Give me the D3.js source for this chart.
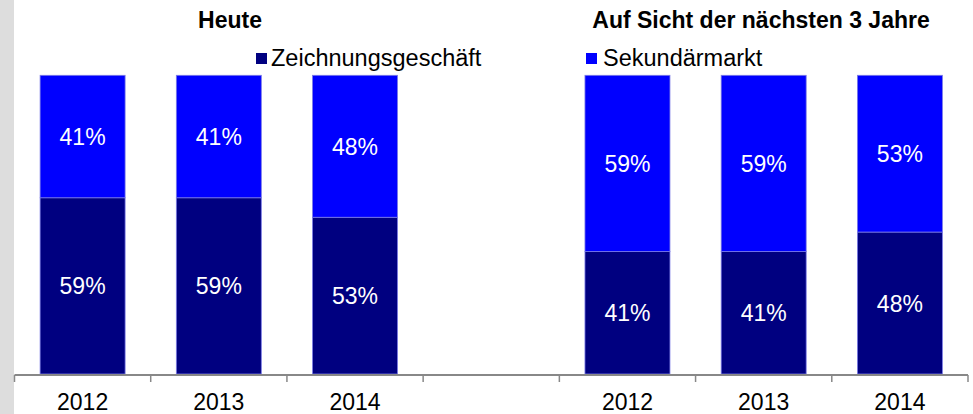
<!DOCTYPE html>
<html>
<head>
<meta charset="utf-8">
<script src="https://cdn.jsdelivr.net/npm/d3@7/dist/d3.min.js"></script>
<style>
  html, body { margin: 0; padding: 0; background: #ffffff; }
  svg { display: block; font-family: "Liberation Sans", Arial, sans-serif; }
</style>
</head>
<body>
<svg id="chart" width="973" height="414"></svg>
<script>
// ---- data ----
const slots = ["h2012", "h2013", "h2014", "gap", "f2012", "f2013", "f2014"];
const tickLabels = ["2012", "2013", "2014", "", "2012", "2013", "2014"];
const zeichnung = [59, 59, 53, null, 41, 41, 48];   // Zeichnungsgeschäft (%)
const sekundaer = [41, 41, 48, null, 59, 59, 53];   // Sekundärmarkt (%)
const seriesNames = ["Zeichnungsgeschäft", "Sekundärmarkt"];
const groupTitles = ["Heute", "Auf Sicht der nächsten 3 Jahre"];
const colors = ["#000080", "#0000ff"];

// ---- layout ----
const svg = d3.select("#chart");
const W = 973, H = 414;
const x0 = 14.5, x1 = 968, yBottom = 375, yTop = 75.3;

svg.append("rect").attr("x", 0).attr("y", 0).attr("width", 14).attr("height", H).attr("fill", "#dddddd");

const x = d3.scaleBand().domain(slots).range([x0, x1]).paddingInner(0.376).paddingOuter(0.188);
const y = d3.scaleLinear().domain([0, 1]).range([yBottom - 1, yTop]);

const rows = slots.map((s, i) => ({ slot: s, z: zeichnung[i] || 0, s2: sekundaer[i] || 0 }));
const stack = d3.stack().keys(["z", "s2"]).offset(d3.stackOffsetExpand);
const layers = stack(rows);

layers.forEach((layer, li) => {
  const g = svg.append("g");
  const data = layer.map((d, i) => ({ d, i, v: li === 0 ? zeichnung[i] : sekundaer[i] }))
                    .filter(o => o.v != null);
  g.selectAll("rect").data(data).enter().append("rect")
    .attr("x", o => x(slots[o.i]))
    .attr("width", x.bandwidth())
    .attr("y", o => y(o.d[1]))
    .attr("height", o => y(o.d[0]) - y(o.d[1]))
    .attr("fill", colors[li])
    .attr("stroke", "#7c7ce6")
    .attr("stroke-width", 0.8);
  g.selectAll("text").data(data).enter().append("text")
    .attr("x", o => x(slots[o.i]) + x.bandwidth() / 2)
    .attr("y", o => (y(o.d[0]) + y(o.d[1])) / 2 + 8.5)
    .attr("text-anchor", "middle")
    .attr("fill", "#ffffff")
    .attr("font-size", "23px")
    .text(o => o.v + "%");
});

// ---- axis ----
const xTick = d3.scalePoint().domain(d3.range(8)).range([x0, x1]);
const ax = svg.append("g");
ax.append("line").attr("x1", x0).attr("x2", x1).attr("y1", yBottom).attr("y2", yBottom)
  .attr("stroke", "#888888").attr("stroke-width", 2);
ax.selectAll("line.tick").data(d3.range(8)).enter().append("line").attr("class", "tick")
  .attr("x1", d => xTick(d)).attr("x2", d => xTick(d))
  .attr("y1", yBottom).attr("y2", yBottom + 7)
  .attr("stroke", "#888888").attr("stroke-width", 1.5);
ax.selectAll("text").data(slots).enter().append("text")
  .attr("x", s => x(s) + x.bandwidth() / 2)
  .attr("y", 409.5)
  .attr("text-anchor", "middle")
  .attr("font-size", "23px")
  .attr("fill", "#000000")
  .text((s, i) => tickLabels[i]);

// ---- titles ----
svg.append("text").attr("x", 230).attr("y", 28).attr("text-anchor", "middle")
  .attr("font-weight", "bold").attr("font-size", "23px").text(groupTitles[0]);
svg.append("text").attr("x", 761).attr("y", 28).attr("text-anchor", "middle")
  .attr("font-weight", "bold").attr("font-size", "23px").text(groupTitles[1]);

// ---- legend ----
const legendPos = [{ sx: 256, tx: 271 }, { sx: 586, tx: 603 }];
seriesNames.forEach((name, i) => {
  svg.append("rect").attr("x", legendPos[i].sx).attr("y", 53).attr("width", 11).attr("height", 11)
    .attr("fill", colors[i]);
  svg.append("text").attr("x", legendPos[i].tx).attr("y", 66).attr("font-size", "23.5px")
    .attr("fill", "#000000").text(name);
});
</script>
</body>
</html>
